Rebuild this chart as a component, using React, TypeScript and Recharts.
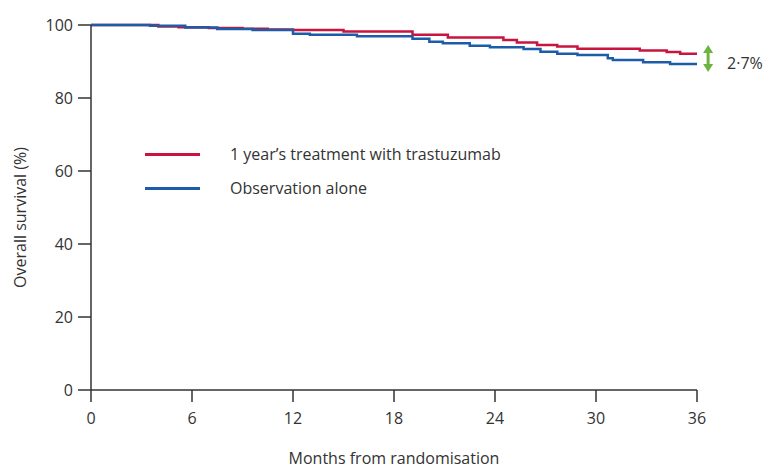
import { LineChart, Line, XAxis, YAxis, Legend, ReferenceLine } from "recharts";

// Kaplan-Meier style step points: [month, survival %]
const trastuzumabMonths = [0, 2, 4, 5.2, 7, 9, 10.5, 12, 15, 19.1, 21.2, 24.5, 25.3, 26.5, 27.7, 28.9, 32.6, 34.2, 35.0, 36];
const trastuzumabSurvival = [100, 100, 99.6, 99.4, 99.2, 99.0, 98.8, 98.6, 98.2, 97.3, 96.6, 95.9, 95.2, 94.5, 94.1, 93.5, 93.0, 92.6, 92.1, 92.1];

const observationMonths = [0, 3.5, 5.6, 7.5, 9.6, 12, 13, 15.8, 19.1, 20.1, 20.9, 22.5, 23.7, 25.7, 26.7, 27.7, 28.9, 30.7, 31.0, 32.8, 34.4, 36];
const observationSurvival = [100, 99.8, 99.3, 98.9, 98.6, 97.6, 97.3, 96.9, 96.2, 95.4, 95.0, 94.3, 93.9, 93.4, 92.7, 92.1, 91.8, 90.9, 90.4, 89.8, 89.3, 89.3];

const monthTicks = [0, 6, 12, 18, 24, 30, 36];
const survivalTicks = [0, 20, 40, 60, 80, 100];

const gapLabel = "2·7%";
const gapMonth = 36.66;
const gapRange = [94.5, 87.1];

const RED = "#c8143f";
const BLUE = "#1c5ca8";
const GREEN = "#6cb33f";
const INK = "#333333";
const FONT = "'Open Sans', sans-serif";
const FS = 16;

const trastuzumabData = trastuzumabMonths.map((m, i) => ({ m, v: trastuzumabSurvival[i] }));
const observationData = observationMonths.map((m, i) => ({ m, v: observationSurvival[i] }));

interface LegendEntry {
  value?: string;
  color?: string;
}

const LegendBox = ({ payload }: { payload?: LegendEntry[] }) => (
  <div style={{ fontFamily: FONT, fontSize: FS, color: INK }}>
    {(payload || []).map((p) => (
      <div key={p.value} style={{ display: "flex", alignItems: "center", height: 34 }}>
        <div style={{ width: 55, height: 3, background: p.color, marginRight: 30 }} />
        <span>{p.value}</span>
      </div>
    ))}
  </div>
);

// double-headed arrow with the gap label next to it
const GapArrow = (props: any) => {
  const { x1, y1, y2 } = props;
  const top = Math.min(y1, y2);
  const bottom = Math.max(y1, y2);
  return (
    <g>
      <line x1={x1} y1={top + 6} x2={x1} y2={bottom - 6} stroke={GREEN} strokeWidth={3} />
      <polygon points={`${x1 - 5},${top + 8} ${x1 + 5},${top + 8} ${x1},${top}`} fill={GREEN} />
      <polygon points={`${x1 - 5},${bottom - 8} ${x1 + 5},${bottom - 8} ${x1},${bottom}`} fill={GREEN} />
      <text x={x1 + 19} y={(top + bottom) / 2 + 10} fontFamily={FONT} fontSize={FS} fill={INK}>
        {gapLabel}
      </text>
    </g>
  );
};

const YTitle = (props: any) => {
  const vb = props.viewBox;
  const x = 20;
  const y = vb.y + vb.height / 2 + 10;
  return (
    <text x={x} y={y} transform={`rotate(-90, ${x}, ${y})`} textAnchor="middle" dominantBaseline="central" fontFamily={FONT} fontSize={FS} fill={INK}>
      Overall survival (%)
    </text>
  );
};

export default function App() {
  return (
    <div style={{ position: "absolute", left: 0, top: 0, background: "#fff" }}>
      <LineChart width={769} height={476} margin={{ top: 25, right: 72, left: 0, bottom: 0 }}>
        <XAxis
          dataKey="m"
          type="number"
          domain={[0, 36]}
          ticks={monthTicks}
          allowDuplicatedCategory={false}
          tickSize={12}
          tickMargin={11}
          height={86}
          stroke={INK}
          strokeWidth={1.5}
          tick={{ fill: INK, fontSize: FS, fontFamily: FONT }}
          label={{ value: "Months from randomisation", position: "insideBottom", offset: 12, fill: INK, fontSize: FS, fontFamily: FONT }}
        />
        <YAxis
          type="number"
          domain={[0, 100]}
          ticks={survivalTicks}
          width={91}
          tickSize={13}
          tickMargin={5}
          stroke={INK}
          strokeWidth={1.5}
          tick={{ fill: INK, fontSize: FS, fontFamily: FONT }}
          label={<YTitle />}
        />
        <Legend
          layout="horizontal"
          verticalAlign="middle"
          align="center"
          content={<LegendBox />}
          wrapperStyle={{ position: "absolute", left: 145, top: 137, width: 420 }}
        />
        <Line
          data={trastuzumabData}
          dataKey="v"
          name="1 year’s treatment with trastuzumab"
          type="stepAfter"
          stroke={RED}
          strokeWidth={2.5}
          dot={false}
          isAnimationActive={false}
        />
        <Line
          data={observationData}
          dataKey="v"
          name="Observation alone"
          type="stepAfter"
          stroke={BLUE}
          strokeWidth={2.5}
          dot={false}
          isAnimationActive={false}
        />
        <ReferenceLine
          segment={[
            { x: gapMonth, y: gapRange[0] },
            { x: gapMonth, y: gapRange[1] },
          ]}
          ifOverflow="visible"
          shape={<GapArrow />}
        />
      </LineChart>
    </div>
  );
}
